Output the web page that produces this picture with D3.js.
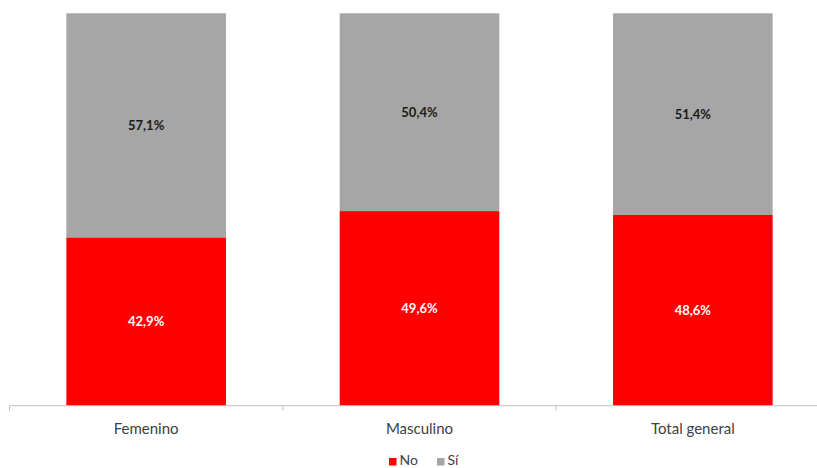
<!DOCTYPE html>
<html><head><meta charset="utf-8">
<script src="https://cdn.jsdelivr.net/npm/d3@7"></script>
<style>body{margin:0;background:#fff}svg{display:block;font-family:Lato,"Open Sans",sans-serif}</style>
</head><body>
<svg id="c" width="817" height="468"></svg>
<script>
const categories = ["Femenino", "Masculino", "Total general"];
const seriesNames = ["No", "Sí"];
const noValues = [42.9, 49.6, 48.6];
const siValues = [57.1, 50.4, 51.4];
const colors = {"No": "#ff0000", "Sí": "#a6a6a6"};
const labelColors = {"No": "#ffffff", "Sí": "#1a1a1a"};

const svg = d3.select("#c");
const x = d3.scaleBand().domain(categories).range([9.5, 829.5]).paddingInner(0.416).paddingOuter(0.208);
const y = d3.scaleLinear().domain([0, 100]).range([405.7, 13.3]);

const rows = categories.map((c, i) => ({cat: c, "No": noValues[i], "Sí": siValues[i]}));
const stack = d3.stack().keys(seriesNames)(rows);

const fmt = v => v.toFixed(1).replace(".", ",") + "%";

stack.forEach(layer => {
  const g = svg.append("g");
  g.selectAll("rect").data(layer).join("rect")
    .attr("x", d => x(d.data.cat))
    .attr("width", x.bandwidth())
    .attr("y", d => y(d[1]))
    .attr("height", d => y(d[0]) - y(d[1]))
    .attr("fill", colors[layer.key]);
  g.selectAll("text").data(layer).join("text")
    .attr("x", d => x(d.data.cat) + x.bandwidth() / 2)
    .attr("y", d => (y(d[0]) + y(d[1])) / 2)
    .attr("dy", "0.35em")
    .attr("text-anchor", "middle")
    .attr("font-size", 13)
    .attr("font-weight", "bold")
    .attr("fill", labelColors[layer.key])
    .text(d => fmt(d[1] - d[0]));
});

// axis
const ax = svg.append("g").attr("transform", "translate(0,405.7)");
const step = x.step();
const tickPos = d3.range(categories.length + 1).map(i => 9.5 + i * step);
ax.append("line").attr("x1", 9.5).attr("x2", 829.5).attr("y1", 0).attr("y2", 0)
  .attr("stroke", "#bfbfbf").attr("stroke-width", 1);
ax.selectAll("line.t").data(tickPos).join("line").attr("class", "t")
  .attr("x1", d => d).attr("x2", d => d).attr("y1", 0).attr("y2", 5)
  .attr("stroke", "#bfbfbf");
ax.selectAll("text").data(categories).join("text")
  .attr("x", d => x(d) + x.bandwidth() / 2)
  .attr("y", 23.5)
  .attr("dy", "0.35em")
  .attr("text-anchor", "middle")
  .attr("font-size", 15)
  .attr("fill", "#404040")
  .text(d => d);

// legend
const legX = [389, 437];
const leg = svg.append("g");
seriesNames.forEach((s, i) => {
  leg.append("rect").attr("x", legX[i]).attr("y", 458).attr("width", 7.5).attr("height", 7.5).attr("fill", colors[s]);
  leg.append("text").attr("x", legX[i] + 10.5).attr("y", 460.5).attr("dy", "0.35em")
    .attr("font-size", 14).attr("fill", "#404040").text(s);
});
</script>
</body></html>
